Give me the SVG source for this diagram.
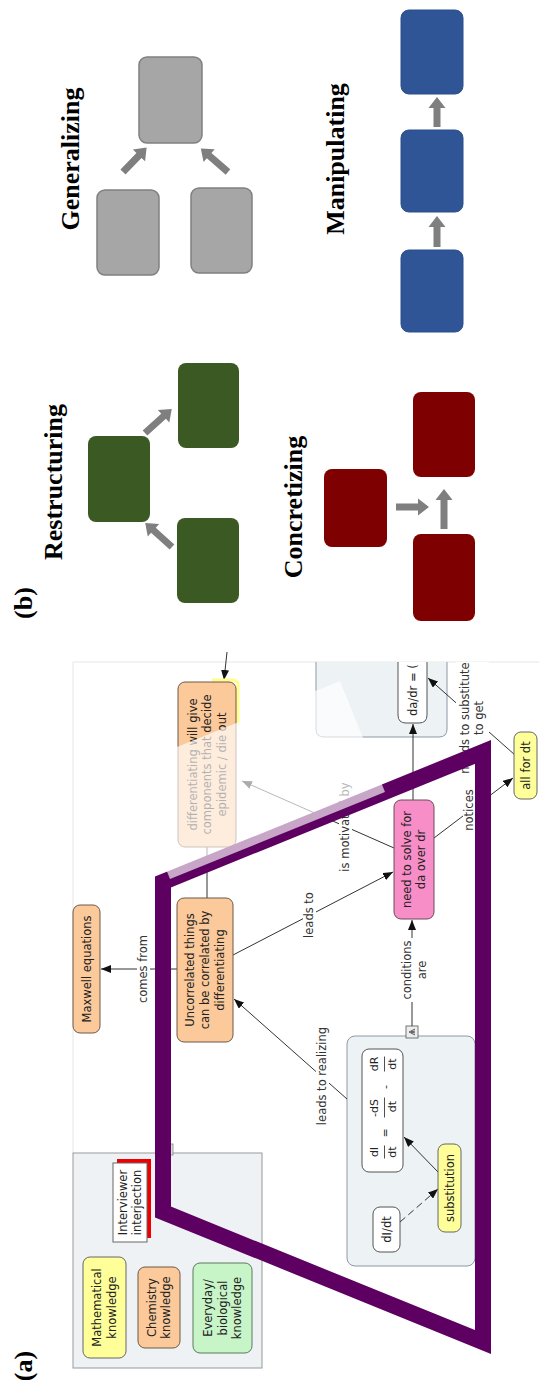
<svg xmlns="http://www.w3.org/2000/svg" width="539" height="1386" viewBox="0 0 539 1386">
<defs>
<style>
.h{font-family:"Liberation Serif",serif;font-weight:bold;font-size:26px;text-anchor:middle;fill:#000}
.t{font-family:"DejaVu Sans",sans-serif;font-size:11.5px;text-anchor:middle;fill:#222}
.lb{font-family:"DejaVu Sans",sans-serif;font-size:11.5px;text-anchor:middle;fill:#333}
.eq{font-family:"DejaVu Sans",sans-serif;font-size:11px;text-anchor:middle;fill:#222}
.gbox{fill:#a6a6a6;stroke:#808080;stroke-width:1.5}
.grn{fill:#3b5a23}
.red{fill:#7f0000}
.blu{fill:#2f5597;stroke:#2b4e8a;stroke-width:1}
.barrow{fill:#7f7f7f}
.or{fill:#fbc99a;stroke:#6e5848;stroke-width:1}
.ye{fill:#ffff99;stroke:#666;stroke-width:1}
.pk{fill:#f78ec8;stroke:#6b4a5a;stroke-width:1}
.gr{fill:#c8f5c8;stroke:#5a7a5a;stroke-width:1}
.wh{fill:#fff;stroke:#555;stroke-width:1}
.cont{fill:#edf2f5;stroke:#8c99a3;stroke-width:1}
.cn{stroke:#333;stroke-width:1;fill:none}
.bg{fill:#fff}
</style>
<marker id="ah" markerWidth="10" markerHeight="8" refX="10" refY="4" orient="auto" markerUnits="userSpaceOnUse">
<path d="M0,0 L10,4 L0,8 z" fill="#111"/>
</marker>
<clipPath id="crop"><rect x="0" y="662" width="539" height="724"/></clipPath>
</defs>
<rect width="539" height="1386" fill="#fff"/>

<!-- Panel (b) -->
<text class="h" transform="translate(32,603) rotate(-90)">(b)</text>

<g id="restructuring">
<text class="h" transform="translate(62,482) rotate(-90)">Restructuring</text>
<rect class="grn" x="178" y="363" width="61" height="85" rx="8"/>
<rect class="grn" x="88" y="436" width="62" height="86" rx="8"/>
<rect class="grn" x="177" y="518" width="62" height="85" rx="8"/>
<path class="barrow" d="M0,-3.5H25V-8.5L36,0L25,8.5V3.5H0Z" transform="translate(145,433) rotate(-42)"/>
<path class="barrow" d="M0,-3.5H25V-8.5L36,0L25,8.5V3.5H0Z" transform="translate(172,547) rotate(-138)"/>
</g>

<g id="generalizing">
<text class="h" transform="translate(79,159) rotate(-90)">Generalizing</text>
<rect class="gbox" x="139" y="57" width="63" height="86" rx="8"/>
<rect class="gbox" x="97" y="190" width="62" height="85" rx="8"/>
<rect class="gbox" x="191" y="188" width="61" height="85" rx="8"/>
<path class="barrow" d="M0,-3.5H23V-8.5L34,0L23,8.5V3.5H0Z" transform="translate(123,172) rotate(-46)"/>
<path class="barrow" d="M0,-3.5H25V-8.5L36,0L25,8.5V3.5H0Z" transform="translate(228,172) rotate(-139)"/>
</g>

<g id="concretizing">
<text class="h" transform="translate(302,507) rotate(-90)">Concretizing</text>
<rect class="red" x="324" y="469" width="63" height="78" rx="8"/>
<rect class="red" x="413" y="392" width="62" height="85" rx="8"/>
<rect class="red" x="413" y="534" width="62" height="87" rx="8"/>
<path class="barrow" d="M0,-3.5H22V-8.5L33,0L22,8.5V3.5H0Z" transform="translate(396,507)"/>
<path class="barrow" d="M0,-3.5H29V-8.5L40,0L29,8.5V3.5H0Z" transform="translate(444,529) rotate(-90)"/>
</g>

<g id="manipulating">
<text class="h" transform="translate(344,159) rotate(-90)">Manipulating</text>
<rect class="blu" x="401" y="10" width="62" height="84" rx="8"/>
<rect class="blu" x="401" y="130" width="62" height="82" rx="8"/>
<rect class="blu" x="401" y="250" width="62" height="82" rx="8"/>
<path class="barrow" d="M0,-3.5H20V-8.5L31,0L20,8.5V3.5H0Z" transform="translate(437,247) rotate(-90)"/>
<path class="barrow" d="M0,-3.5H19V-8.5L30,0L19,8.5V3.5H0Z" transform="translate(437,127) rotate(-90)"/>
</g>

<!-- Panel (a) -->
<text class="h" transform="translate(32,1366) rotate(-90)">(a)</text>

<g id="crop-edges" stroke="#e6e6e6" stroke-width="1" fill="none">
<path d="M73,1153 V662 H539"/>
</g>

<g id="legend">
<rect x="73" y="1153" width="189" height="215" fill="#eef2f5" stroke="#999" stroke-width="1"/>
<rect x="166" y="1144" width="7" height="11" fill="#ddd" stroke="#888" stroke-width="0.8"/>
<g id="leg-math"><rect class="ye" x="83" y="1257" width="43" height="101" rx="7"/>
<text class="t" transform="translate(104.5,1307.5) rotate(-90)"><tspan x="0" y="-3.1">Mathematical</tspan><tspan x="0" y="11.4">knowledge</tspan></text></g>
<g id="leg-chem"><rect class="or" x="138" y="1267" width="42" height="81" rx="7"/>
<text class="t" transform="translate(159,1307.5) rotate(-90)"><tspan x="0" y="-3.1">Chemistry</tspan><tspan x="0" y="11.4">knowledge</tspan></text></g>
<g id="leg-bio"><rect class="gr" x="193" y="1263" width="59" height="90" rx="7"/>
<text class="t" transform="translate(222.5,1308) rotate(-90)"><tspan x="0" y="-10.4">Everyday/</tspan><tspan x="0" y="4.1">biological</tspan><tspan x="0" y="18.6">knowledge</tspan></text></g>
<g id="leg-interv"><rect x="117" y="1159" width="34" height="79" fill="#e00"/>
<rect x="113" y="1163" width="34" height="79" fill="#fff" stroke="#666" stroke-width="1"/>
<text class="t" transform="translate(130,1202.5) rotate(-90)"><tspan x="0" y="-3.1">Interviewer</tspan><tspan x="0" y="11.4">interjection</tspan></text></g>
</g>

<g id="container-eq">
<rect class="cont" x="347" y="1036" width="128" height="230" rx="8"/>
<rect x="406" y="1026" width="12" height="12" fill="#eee" stroke="#555" stroke-width="0.8"/>
<path d="M415,1029 L409,1032 L415,1035 M415,1031 L411,1032 L415,1033" stroke="#333" stroke-width="0.8" fill="none"/>
</g>

<g id="container-da" clip-path="url(#crop)">
<path class="cont" d="M316,650 V729 Q316,737 324,737 H439 Q447,737 447,729 V650"/>
<path class="wh" d="M398,650 V715 Q398,723 406,723 H419 Q427,723 427,715 V650"/>
<text class="t" style="text-anchor:start" transform="translate(412.5,716) rotate(-90)" y="4.1">da/dr = (</text>
</g>

<g id="connectors">
<line class="cn" x1="177" y1="969" x2="101" y2="969" marker-end="url(#ah)"/>
<line class="cn" x1="233" y1="955" x2="393" y2="872" marker-end="url(#ah)"/>
<line class="cn" x1="347" y1="1099" x2="234" y2="999" marker-end="url(#ah)"/>
<line class="cn" x1="412" y1="1026" x2="412" y2="920" marker-end="url(#ah)"/>
<line class="cn" x1="394" y1="848" x2="242" y2="781" marker-end="url(#ah)"/>
<line class="cn" x1="434" y1="838" x2="513" y2="778" marker-end="url(#ah)"/>
<line class="cn" x1="515" y1="755" x2="428" y2="678" marker-end="url(#ah)"/>
<line class="cn" x1="413" y1="800" x2="413" y2="724" marker-end="url(#ah)"/>
<line class="cn" x1="207" y1="898" x2="207" y2="847"/>
<line class="cn" x1="227" y1="652" x2="224" y2="680" marker-end="url(#ah)"/>
<line class="cn" x1="400" y1="1222" x2="438" y2="1189" stroke-dasharray="7,4" marker-end="url(#ah)"/>
<line class="cn" x1="438" y1="1172" x2="404" y2="1137" marker-end="url(#ah)"/>
<g id="labels">
<rect class="bg" x="137" y="933" width="13" height="72"/>
<text class="lb" transform="translate(143,969) rotate(-90)" y="4.1">comes from</text>
<rect class="bg" x="303" y="890" width="13" height="50"/>
<text class="lb" transform="translate(309,915) rotate(-90)" y="4.1">leads to</text>
<rect class="bg" x="316" y="1026" width="13" height="100"/>
<text class="lb" transform="translate(322,1076) rotate(-90)" y="4.1">leads to realizing</text>
<rect class="bg" x="401" y="938" width="28" height="64"/>
<text class="lb" transform="translate(414.5,970) rotate(-90)"><tspan x="0" y="-3.1">conditions</tspan><tspan x="0" y="11.4">are</tspan></text>
<rect class="bg" x="339" y="780" width="13" height="95"/>
<text class="lb" transform="translate(345,827) rotate(-90)" y="4.1">is motivated by</text>
<rect class="bg" x="463" y="788" width="13" height="44"/>
<text class="lb" transform="translate(469,810) rotate(-90)" y="4.1">notices</text>
<g clip-path="url(#crop)">
<rect class="bg" x="456" y="662" width="33" height="112"/>
<text class="lb" transform="translate(472,718) rotate(-90)"><tspan x="0" y="-3.1">needs to substitute</tspan><tspan x="0" y="11.4">to get</tspan></text>
</g>
</g>
</g>

<g id="n-maxwell"><rect class="or" x="73" y="905" width="27" height="128" rx="7"/>
<text class="t" transform="translate(86.5,969) rotate(-90)" y="4.1">Maxwell equations</text></g>

<g id="n-uncorrelated"><rect class="or" x="177" y="898" width="56" height="144" rx="7"/>
<text class="t" transform="translate(205,970) rotate(-90)"><tspan x="0" y="-10.9">Uncorrelated things</tspan><tspan x="0" y="4.1">can be correlated by</tspan><tspan x="0" y="19.1">differentiating</tspan></text></g>

<g id="n-differentiating">
<path d="M212,680 H233 Q238,680 238,685 V725" fill="none" stroke="#ffff88" stroke-width="3"/>
<rect class="or" x="178" y="682" width="58" height="165" rx="7"/>
<text class="t" transform="translate(207,764.5) rotate(-90)"><tspan x="0" y="-10.4">differentiating  will give</tspan><tspan x="0" y="4.1">components that decide</tspan><tspan x="0" y="18.6">epidemic / die out</tspan></text></g>

<g id="n-need"><rect class="pk" x="394" y="800" width="40" height="119" rx="7"/>
<text class="t" transform="translate(414,859.5) rotate(-90)"><tspan x="0" y="-3.1">need to solve for</tspan><tspan x="0" y="11.4">da over dr</tspan></text></g>

<g id="n-allfordt"><rect class="ye" x="514" y="732" width="23" height="67" rx="7"/>
<text class="t" transform="translate(525.5,765.5) rotate(-90)" y="4.1">all for dt</text></g>

<g id="n-equation"><rect class="wh" x="362" y="1049" width="41" height="123" rx="7"/>
<g class="eq" transform="translate(382.5,1110.5) rotate(-90)">
<text x="-41.5" y="-4.5">dI</text><line x1="-48" y1="2" x2="-35" y2="2" stroke="#222" stroke-width="0.8"/><text x="-41.5" y="13">dt</text>
<text x="-22.5" y="6">=</text>
<text x="2.5" y="-4.5">-dS</text><line x1="-7" y1="2" x2="13" y2="2" stroke="#222" stroke-width="0.8"/><text x="4" y="13">dt</text>
<text x="23.5" y="6">-</text>
<text x="46.5" y="-4.5">dR</text><line x1="39" y1="2" x2="54" y2="2" stroke="#222" stroke-width="0.8"/><text x="46.5" y="13">dt</text>
</g></g>

<g id="n-didt"><rect class="wh" x="373" y="1207" width="27" height="45" rx="7"/>
<text class="t" transform="translate(386.5,1229.5) rotate(-90)" y="4.1">dI/dt</text></g>

<g id="n-substitution"><rect class="ye" x="438" y="1144" width="23" height="88" rx="7"/>
<text class="t" transform="translate(449.5,1188) rotate(-90)" y="4.1">substitution</text></g>

<g id="purple-outline">
<polygon points="163,882 483,752 483,1342 163,1212" fill="none" stroke="#5e0061" stroke-width="16" stroke-linejoin="miter" stroke-miterlimit="10"/>
</g>

<g id="fade-overlay">
<polygon points="170,879 385,792 340,681 125,768" fill="#fff" fill-opacity="0.65"/>
</g>
</svg>
